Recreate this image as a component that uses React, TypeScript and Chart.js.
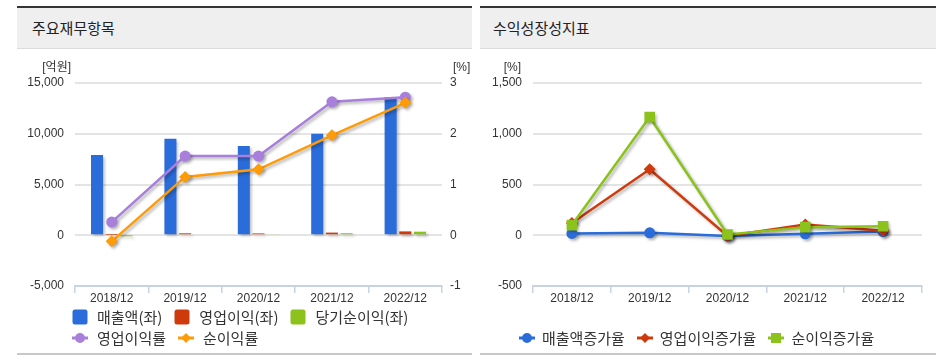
import React, { useEffect, useRef } from 'react';
import { Chart, registerables } from 'chart.js';

Chart.register(...registerables);

// ---- data ----
const categories = ['2018/12', '2019/12', '2020/12', '2021/12', '2022/12'];
const revenue = [7900, 9500, 8800, 10000, 13600];
const operatingIncome = [30, 190, 180, 260, 380];
const netIncome = [-10, 100, 110, 200, 350];
const operatingMargin = [0.26, 1.56, 1.56, 2.63, 2.72];
const netMargin = [-0.12, 1.15, 1.3, 1.97, 2.61];
const revenueGrowth = [18, 24, -7, 14, 37];
const operatingGrowth = [120, 650, -7, 105, 45];
const netGrowth = [100, 1165, 8, 80, 88];

const leftLegend1 = ['매출액(좌)', '영업이익(좌)', '당기순이익(좌)'];
const leftLegend2 = ['영업이익률', '순이익률'];
const rightLegend = ['매출액증가율', '영업이익증가율', '순이익증가율'];

const BLUE = '#2a6cd9';
const RED = '#cf3a0c';
const GREEN = '#8cc21c';
const PURPLE = '#a87fdb';
const ORANGE = '#fd9b08';

const TICK_FONT = { family: '"Liberation Sans", "Noto Sans CJK KR", sans-serif', size: 12 };
const TEXT = '#333333';
const GRID = '#e4e4e4';
const AXIS = '#c7d2e3';

const shadowPlugin = {
  id: 'shadowPlugin',
  beforeDatasetsDraw(chart: any) {
    const ctx = chart.ctx;
    ctx.save();
    ctx.shadowColor = 'rgba(0,0,0,0.3)';
    ctx.shadowBlur = 3;
    ctx.shadowOffsetX = 2;
    ctx.shadowOffsetY = 2;
  },
  afterDatasetsDraw(chart: any) {
    chart.ctx.restore();
  },
};

function unitPlugin(items: { text: string; side: 'left' | 'right'; dx: number; align: CanvasTextAlign }[]) {
  return {
    id: 'unitPlugin',
    afterDraw(chart: any) {
      const ctx = chart.ctx;
      const a = chart.chartArea;
      ctx.save();
      ctx.font = `12px ${TICK_FONT.family}`;
      ctx.fillStyle = TEXT;
      ctx.textBaseline = 'middle';
      items.forEach((it) => {
        ctx.textAlign = it.align;
        const x = it.side === 'left' ? a.left + it.dx : a.right + it.dx;
        ctx.fillText(it.text, x, a.top - 15);
      });
      ctx.restore();
    },
  };
}

const fmt = (v: any) => Number(v).toLocaleString('en-US');

function xAxis() {
  return {
    offset: true,
    grid: {
      display: true,
      offset: true,
      drawOnChartArea: false,
      drawTicks: true,
      tickLength: 7,
      color: AXIS,
      lineWidth: 1.5,
    },
    border: { display: true, color: AXIS, width: 2 },
    ticks: { font: TICK_FONT, color: TEXT, padding: -2, maxRotation: 0, autoSkip: false },
    afterFit: (s: any) => { s.height = 25; },
  };
}

function LeftChart() {
  const ref = useRef<HTMLCanvasElement>(null);
  useEffect(() => {
    if (!ref.current) return;
    const chart = new Chart(ref.current, {
      type: 'bar',
      data: {
        labels: categories,
        datasets: [
          { type: 'line', label: leftLegend2[1], data: netMargin, yAxisID: 'y1', borderColor: ORANGE, backgroundColor: ORANGE, borderWidth: 2.5, pointStyle: 'rectRot', pointRadius: 6, pointBorderWidth: 0, tension: 0, order: 1 } as any,
          { type: 'line', label: leftLegend2[0], data: operatingMargin, yAxisID: 'y1', borderColor: PURPLE, backgroundColor: PURPLE, borderWidth: 2.5, pointStyle: 'circle', pointRadius: 5.5, pointBorderWidth: 0, tension: 0, order: 2 } as any,
          { label: leftLegend1[0], data: revenue, backgroundColor: BLUE, yAxisID: 'y', categoryPercentage: 0.6, barPercentage: 0.82, order: 3 },
          { label: leftLegend1[1], data: operatingIncome, backgroundColor: RED, yAxisID: 'y', categoryPercentage: 0.6, barPercentage: 0.82, order: 4 },
          { label: leftLegend1[2], data: netIncome, backgroundColor: GREEN, yAxisID: 'y', categoryPercentage: 0.6, barPercentage: 0.82, order: 5 },
        ],
      },
      options: {
        animation: false,
        responsive: false,
        maintainAspectRatio: false,
        layout: { padding: { top: 34, left: 0, right: 0, bottom: 0 } },
        plugins: { legend: { display: false }, tooltip: { enabled: false } },
        scales: {
          x: xAxis() as any,
          y: {
            position: 'left',
            min: -5000,
            max: 15000,
            ticks: { stepSize: 5000, font: TICK_FONT, color: TEXT, padding: 11, callback: fmt },
            grid: { color: GRID, lineWidth: 2, drawTicks: false },
            border: { display: false },
            afterFit: (s: any) => { s.width = 58; },
          },
          y1: {
            position: 'right',
            min: -1,
            max: 3,
            ticks: { stepSize: 1, font: TICK_FONT, color: TEXT, padding: 8 },
            grid: { drawOnChartArea: false, drawTicks: false },
            border: { display: false },
            afterFit: (s: any) => { s.width = 30; },
          },
        },
      },
      plugins: [
        shadowPlugin,
        unitPlugin([
          { text: '[억원]', side: 'left', dx: -4, align: 'right' },
          { text: '[%]', side: 'right', dx: 11, align: 'left' },
        ]),
      ],
    });
    return () => chart.destroy();
  }, []);
  return <canvas ref={ref} width={455} height={262} style={{ position: 'absolute', left: 17, top: 49, width: 455, height: 262 }} />;
}

function RightChart() {
  const ref = useRef<HTMLCanvasElement>(null);
  useEffect(() => {
    if (!ref.current) return;
    const chart = new Chart(ref.current, {
      type: 'line',
      data: {
        labels: categories,
        datasets: [
          { label: rightLegend[2], data: netGrowth, borderColor: GREEN, backgroundColor: GREEN, borderWidth: 2.5, pointStyle: 'rect', pointRadius: 7.5, pointBorderWidth: 0, tension: 0, order: 1 },
          { label: rightLegend[1], data: operatingGrowth, borderColor: RED, backgroundColor: RED, borderWidth: 2.5, pointStyle: 'rectRot', pointRadius: 6, pointBorderWidth: 0, tension: 0, order: 2 },
          { label: rightLegend[0], data: revenueGrowth, borderColor: BLUE, backgroundColor: BLUE, borderWidth: 2.5, pointStyle: 'circle', pointRadius: 5.5, pointBorderWidth: 0, tension: 0, order: 3 },
        ],
      },
      options: {
        animation: false,
        responsive: false,
        maintainAspectRatio: false,
        layout: { padding: { top: 34, left: 0, right: 14, bottom: 0 } },
        plugins: { legend: { display: false }, tooltip: { enabled: false } },
        scales: {
          x: xAxis() as any,
          y: {
            position: 'left',
            min: -500,
            max: 1500,
            ticks: { stepSize: 500, font: TICK_FONT, color: TEXT, padding: 11, callback: fmt },
            grid: { color: GRID, lineWidth: 2, drawTicks: false },
            border: { display: false },
            afterFit: (s: any) => { s.width = 53; },
          },
        },
      },
      plugins: [shadowPlugin, unitPlugin([{ text: '[%]', side: 'left', dx: -12, align: 'right' }])],
    });
    return () => chart.destroy();
  }, []);
  return <canvas ref={ref} width={456} height={262} style={{ position: 'absolute', left: 480, top: 49, width: 456, height: 262 }} />;
}

type Sym = 'box' | 'circle' | 'diamond' | 'square';

function Symbol({ kind, color }: { kind: Sym; color: string }) {
  if (kind === 'box') {
    return (
      <svg width={16} height={16} style={{ display: 'block' }}>
        <rect x={0.5} y={0.5} width={15} height={15} rx={2.5} fill={color} />
      </svg>
    );
  }
  return (
    <svg width={16} height={16} style={{ display: 'block' }}>
      <line x1={0} y1={8} x2={16} y2={8} stroke={color} strokeWidth={3} />
      {kind === 'circle' && <circle cx={8} cy={8} r={5} fill={color} />}
      {kind === 'diamond' && <polygon points="8,3 13,8 8,13 3,8" fill={color} />}
      {kind === 'square' && <rect x={3} y={3} width={10} height={10} fill={color} />}
    </svg>
  );
}

function LegendRow({ items, top, left, gap, spacing }: { items: { label: string; kind: Sym; color: string }[]; top: number; left: number; gap: number; spacing: number }) {
  return (
    <div style={{ position: 'absolute', top, left, height: 20, display: 'flex', alignItems: 'center', whiteSpace: 'nowrap' }}>
      {items.map((it, i) => (
        <div key={i} style={{ display: 'flex', alignItems: 'center', marginRight: spacing }}>
          <Symbol kind={it.kind} color={it.color} />
          <span style={{ marginLeft: gap, fontSize: 15, lineHeight: '20px', color: TEXT, fontFamily: '"Noto Sans CJK KR", sans-serif' }}>{it.label}</span>
        </div>
      ))}
    </div>
  );
}

function Panel({ left, width, title, titleInset }: { left: number; width: number; title: string; titleInset: number }) {
  return (
    <>
      <div style={{ position: 'absolute', left, top: 6, width, height: 40, borderTop: '2px solid #353535', borderBottom: '1px solid #dcdcdc', background: '#efefef' }}>
        <div style={{ position: 'absolute', left: titleInset, top: 0, height: 40, lineHeight: '40px', fontSize: 15, color: '#222', fontFamily: '"Noto Sans CJK KR", sans-serif' }}>{title}</div>
      </div>
      <div style={{ position: 'absolute', left, top: 353, width, height: 2, background: '#c8c8c8' }} />
    </>
  );
}

export default function App() {
  return (
    <div style={{ position: 'absolute', left: 0, top: 0, width: 944, height: 360, background: '#fff', overflow: 'hidden' }}>
      <Panel left={17} width={455} title="주요재무항목" titleInset={15} />
      <Panel left={480} width={456} title="수익성장성지표" titleInset={13} />
      <LeftChart />
      <RightChart />
      <LegendRow
        top={307}
        left={72}
        gap={9}
        spacing={12}
        items={[
          { label: leftLegend1[0], kind: 'box', color: BLUE },
          { label: leftLegend1[1], kind: 'box', color: RED },
          { label: leftLegend1[2], kind: 'box', color: GREEN },
        ]}
      />
      <LegendRow
        top={328}
        left={72}
        gap={9}
        spacing={12}
        items={[
          { label: leftLegend2[0], kind: 'circle', color: PURPLE },
          { label: leftLegend2[1], kind: 'diamond', color: ORANGE },
        ]}
      />
      <LegendRow
        top={328}
        left={519}
        gap={7}
        spacing={12}
        items={[
          { label: rightLegend[0], kind: 'circle', color: BLUE },
          { label: rightLegend[1], kind: 'diamond', color: RED },
          { label: rightLegend[2], kind: 'square', color: GREEN },
        ]}
      />
    </div>
  );
}
